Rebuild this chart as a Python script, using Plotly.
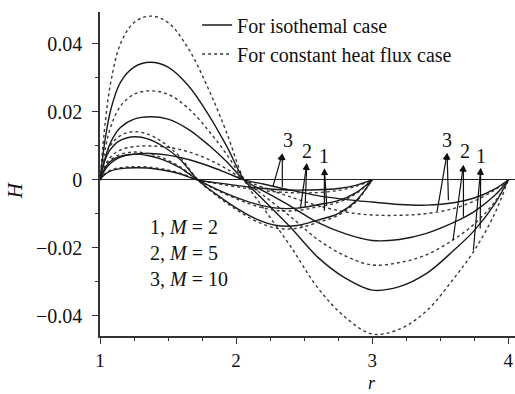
import plotly.graph_objects as go

# ---------------- data ----------------
# outer domain r in [1, 4]
r4 = [1.0, 1.04, 1.08, 1.15, 1.25, 1.37, 1.5, 1.65, 1.8, 1.93, 2.06,
      2.2, 2.4, 2.6, 2.8, 3.0, 3.2, 3.4, 3.6, 3.75, 3.9, 4.0]
h4_iso_m2 = [0, 0.0125, 0.0208, 0.0287, 0.0332, 0.0346, 0.0332, 0.0277, 0.0190, 0.0100, 0,
             -0.0058, -0.0139, -0.0227, -0.0288, -0.0324, -0.0314, -0.0275, -0.0207, -0.0149, -0.0071, 0]
h4_flux_m2 = [0, 0.0174, 0.0289, 0.0400, 0.0463, 0.0482, 0.0463, 0.0386, 0.0265, 0.0140, 0,
              -0.0082, -0.0195, -0.0317, -0.0403, -0.0453, -0.0439, -0.0385, -0.0290, -0.0208, -0.0100, 0]
h4_iso_m5 = [0, 0.0067, 0.0112, 0.0154, 0.0179, 0.0186, 0.0179, 0.0149, 0.0102, 0.0054, 0,
             -0.0032, -0.0077, -0.0125, -0.0158, -0.0178, -0.0175, -0.0157, -0.0125, -0.0093, -0.0046, 0]
h4_flux_m5 = [0, 0.0094, 0.0157, 0.0217, 0.0252, 0.0262, 0.0252, 0.0210, 0.0144, 0.0076, 0,
              -0.0045, -0.0108, -0.0175, -0.0223, -0.0250, -0.0243, -0.0220, -0.0175, -0.0130, -0.0065, 0]
h4_iso_m10 = [0, 0.0032, 0.0050, 0.0067, 0.0076, 0.0078, 0.0073, 0.0060, 0.0041, 0.0021, 0,
              -0.0012, -0.0030, -0.0046, -0.0057, -0.0065, -0.0072, -0.0074, -0.0067, -0.0053, -0.0027, 0]
h4_flux_m10 = [0, 0.0045, 0.0068, 0.0088, 0.0098, 0.0100, 0.0096, 0.0083, 0.0060, 0.0033, 0,
               -0.0022, -0.0050, -0.0075, -0.0094, -0.0103, -0.0104, -0.0099, -0.0084, -0.0062, -0.0030, 0]

# inner domain r in [1, 3]
r3 = [1.0, 1.03, 1.07, 1.13, 1.2, 1.26, 1.35, 1.45, 1.58, 1.72,
      1.85, 2.0, 2.15, 2.3, 2.45, 2.6, 2.75, 2.88, 3.0]
h3_iso_m2 = [0, 0.0051, 0.0086, 0.0112, 0.0124, 0.0127, 0.0121, 0.0102, 0.0064, 0,
             -0.0041, -0.0082, -0.0115, -0.0134, -0.0134, -0.0118, -0.0099, -0.0062, 0]
h3_flux_m2 = [0, 0.0057, 0.0097, 0.0125, 0.0139, 0.0142, 0.0135, 0.0114, 0.0071, 0,
              -0.0044, -0.0087, -0.0122, -0.0142, -0.0142, -0.0125, -0.0104, -0.0065, 0]
h3_iso_m5 = [0, 0.0030, 0.0052, 0.0067, 0.0074, 0.0076, 0.0072, 0.0061, 0.0038, 0,
             -0.0026, -0.0051, -0.0071, -0.0083, -0.0083, -0.0073, -0.0061, -0.0038, 0]
h3_flux_m5 = [0, 0.0033, 0.0056, 0.0072, 0.0080, 0.0082, 0.0078, 0.0066, 0.0041, 0,
              -0.0028, -0.0055, -0.0077, -0.0090, -0.0090, -0.0079, -0.0066, -0.0041, 0]
h3_iso_m10 = [0, 0.0014, 0.0025, 0.0032, 0.0035, 0.0036, 0.0035, 0.0030, 0.0019, 0,
              -0.0008, -0.0016, -0.0023, -0.0028, -0.0030, -0.0029, -0.0025, -0.0016, 0]
h3_flux_m10 = [0, 0.0016, 0.0027, 0.0035, 0.0038, 0.0039, 0.0038, 0.0033, 0.0021, 0,
               -0.0010, -0.0020, -0.0029, -0.0035, -0.0038, -0.0037, -0.0031, -0.0019, 0]

y_tickvals = [-0.04, -0.02, 0, 0.02, 0.04]
y_ticktext = ["\u22120.04", "\u22120.02", "0", "0.02", "0.04"]
x_tickvals = [1, 2, 3, 4]
x_ticktext = ["1", "2", "3", "4"]

legend_names = ["For isothemal case", "For constant heat flux case"]
case_lines = ["1, <i>M</i> = 2", "2, <i>M</i> = 5", "3, <i>M</i> = 10"]

# arrows: (label, head_r, head_H, [(tail_r, tail_H), ...], label_r, label_H)
arrows = [
    ("3", 2.340, 0.0078, [(2.267, -0.0025), (2.340, -0.0025)], 2.382, 0.0118),
    ("2", 2.520, 0.0049, [(2.471, -0.0088), (2.507, -0.0083)], 2.522, 0.0085),
    ("1", 2.649, 0.0034, [(2.649, -0.0095), (2.667, -0.0079)], 2.647, 0.0071),
    ("3", 3.551, 0.0079, [(3.476, -0.0096), (3.561, -0.0064)], 3.549, 0.0118),
    ("2", 3.671, 0.0044, [(3.593, -0.0181), (3.671, -0.0113)], 3.679, 0.0085),
    ("1", 3.798, 0.0035, [(3.743, -0.0211), (3.794, -0.0147)], 3.801, 0.0071),
]

# ---------------- figure ----------------
FONT = "Liberation Serif"
SOLID = dict(color="#1a1a1a", width=1.4)
DOT = dict(color="#3a3a3a", width=1.4, dash="dot")

fig = go.Figure()

series = [
    (r4, h4_flux_m2, "flux"), (r4, h4_iso_m2, "iso"),
    (r4, h4_flux_m5, "flux"), (r4, h4_iso_m5, "iso"),
    (r4, h4_flux_m10, "flux"), (r4, h4_iso_m10, "iso"),
    (r3, h3_flux_m2, "flux"), (r3, h3_iso_m2, "iso"),
    (r3, h3_flux_m5, "flux"), (r3, h3_iso_m5, "iso"),
    (r3, h3_flux_m10, "flux"), (r3, h3_iso_m10, "iso"),
]
shown = set()
for rx, hy, kind in series:
    first = kind not in shown
    shown.add(kind)
    fig.add_trace(go.Scatter(
        x=rx, y=hy, mode="lines", line_shape="spline",
        line=SOLID if kind == "iso" else DOT,
        name=legend_names[0] if kind == "iso" else legend_names[1],
        legendgroup=kind, showlegend=first,
        legendrank=1 if kind == "iso" else 2,
    ))

anns = []
for lab, hx, hy, tails, lx, ly in arrows:
    for tx, ty in tails:
        anns.append(dict(
            x=hx, y=hy, xref="x", yref="y", ax=tx, ay=ty, axref="x", ayref="y",
            text="", showarrow=True, arrowhead=2, arrowsize=1.1, arrowwidth=1.2,
            arrowcolor="#111111", standoff=0, startstandoff=0))
    anns.append(dict(x=lx, y=ly, xref="x", yref="y", text=lab, showarrow=False,
                     font=dict(family=FONT, size=20, color="#111111"),
                     xanchor="center", yanchor="middle"))

anns.append(dict(x=0.116, y=0.257, xref="paper", yref="paper",
                 text="<br>".join(case_lines), showarrow=False, align="left",
                 xanchor="left", yanchor="middle",
                 font=dict(family=FONT, size=20, color="#111111")))
anns.append(dict(x=-0.205, y=0.45, xref="paper", yref="paper", text="<i>H</i>",
                 showarrow=False, textangle=-90, xanchor="center", yanchor="middle",
                 font=dict(family=FONT, size=21, color="#111111")))
anns.append(dict(x=0.656, y=-0.146, xref="paper", yref="paper", text="<i>r</i>",
                 showarrow=False, xanchor="center", yanchor="middle",
                 font=dict(family=FONT, size=18, color="#111111")))

fig.update_layout(
    width=515, height=394,
    margin=dict(l=100, r=0, t=12, b=58),
    paper_bgcolor="white", plot_bgcolor="white",
    font=dict(family=FONT, size=20, color="#111111"),
    showlegend=True,
    legend=dict(x=0.234, y=1.02, xanchor="left", yanchor="top",
                bgcolor="rgba(0,0,0,0)", font=dict(family=FONT, size=20),
                tracegroupgap=0, itemwidth=30),
    annotations=anns,
    xaxis=dict(range=[1, 4.05], tickvals=x_tickvals, ticktext=x_ticktext,
               tickfont=dict(family=FONT, size=19),
               ticks="outside", ticklen=6, tickwidth=1.2, tickcolor="#333",
               showline=True, linecolor="#333", linewidth=1.5,
               showgrid=False, zeroline=False, ticklabelstandoff=0,
               minor=dict(dtick=0.25, tick0=1, ticks="outside", ticklen=3,
                          tickcolor="#333", showgrid=False)),
    yaxis=dict(range=[-0.0459, 0.0494], tickvals=y_tickvals, ticktext=y_ticktext,
               ticks="outside", ticklen=6, tickwidth=1.2, tickcolor="#333",
               showline=True, linecolor="#333", linewidth=1.5,
               showgrid=False, zeroline=True, zerolinecolor="#222",
               zerolinewidth=1.3, ticklabelstandoff=6,
               minor=dict(dtick=0.01, tick0=0, ticks="outside", ticklen=3,
                          tickcolor="#333", showgrid=False)),
)

fig.write_html("out.html")
